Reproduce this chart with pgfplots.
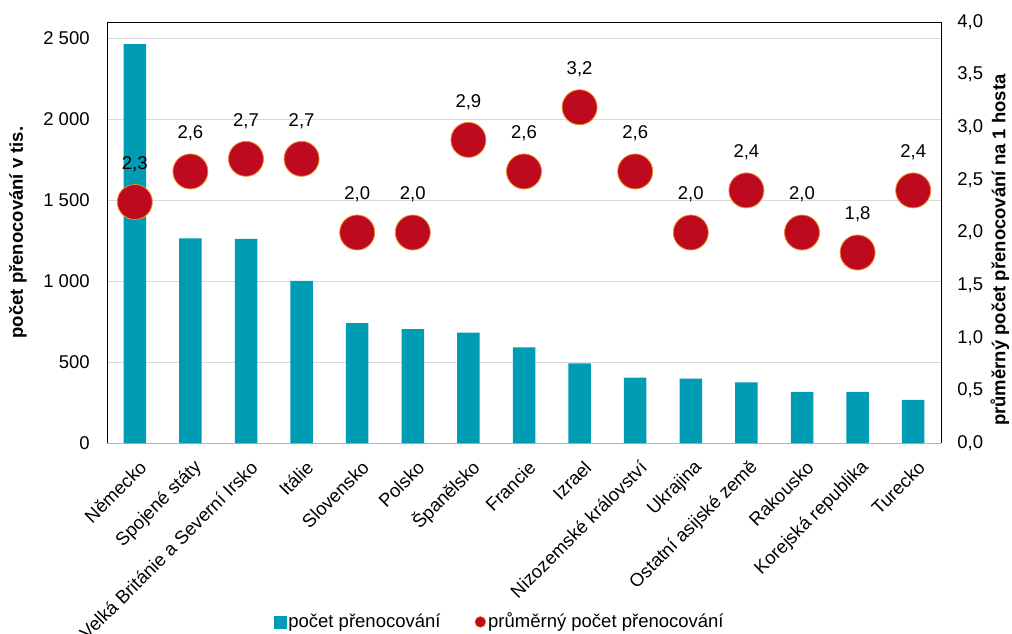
\documentclass[border=0pt]{standalone}
\usepackage{pgfplots}
\pgfplotsset{compat=1.18}
\usepackage{fontspec}
\setmainfont{Liberation Sans}

\definecolor{barteal}{RGB}{0,156,180}
\definecolor{dotred}{RGB}{190,10,30}
\definecolor{dotedge}{RGB}{240,140,40}
\definecolor{gridgray}{RGB}{217,217,217}

\begin{document}
\fontsize{18.5bp}{22bp}\selectfont
\begin{tikzpicture}
    % left axis: bars
    \begin{axis}[
        scale only axis,
        width=834bp, height=421bp,
        xmin=-0.5, xmax=14.5,
        ymin=0, ymax=2600,
        xtick={0,...,14},
        xticklabels={Německo, Spojené státy, Velká Británie a Severní Irsko, Itálie, Slovensko, Polsko, Španělsko, Francie, Izrael, Nizozemské království, Ukrajina, Ostatní asijské země, Rakousko, Korejská republika, Turecko},
        xticklabel style={rotate=45, anchor=east, xshift=-3bp, yshift=-21bp},
        ytick={0,500,1000,1500,2000,2500},
        yticklabel style={xshift=-11bp},
        major tick length=0pt,
        axis x line*=bottom, axis y line*=left,
        x axis line style={gray!60, -},
        y axis line style={black, -},
        ymajorgrids,
        grid style={gridgray, line width=1bp},
        scaled y ticks=false,
        /pgf/number format/1000 sep={\ },
        /pgf/number format/assume math mode=true,
        ylabel={\bfseries počet přenocování v tis.},
        ylabel style={at={(axis description cs:-0.1067,0.5)}, anchor=center},
    ]
        \addplot[ybar, bar width=22.5bp, fill=barteal, draw=none] coordinates {
            (0,2464) (1,1264) (2,1260) (3,1001) (4,741) (5,704) (6,681) (7,591)
            (8,492) (9,403) (10,397) (11,375) (12,315) (13,315) (14,266)
        };
    \end{axis}
    % right axis: average nights per guest
    \begin{axis}[
        scale only axis,
        width=834bp, height=421bp,
        xmin=-0.5, xmax=14.5,
        ymin=0, ymax=4,
        axis x line*=top, axis y line*=right,
        x axis line style={black, -},
        y axis line style={black, -},
        xtick=\empty,
        ytick={0,0.5,1,1.5,2,2.5,3,3.5,4},
        yticklabel style={xshift=10bp},
        major tick length=0pt,
        /pgf/number format/use comma,
        /pgf/number format/fixed,
        /pgf/number format/fixed zerofill,
        /pgf/number format/precision=1,
        /pgf/number format/assume math mode=true,
        ylabel={\bfseries průměrný počet přenocování na 1 hosta},
        ylabel style={at={(axis description cs:1.0707,0.458)}, anchor=center},
        legend style={at={(axis description cs:0.471,-0.425)}, anchor=center,
            draw=none, fill=none, legend columns=2,
            /tikz/every even column/.append style={column sep=32bp}},
        legend cell align=left,
    ]
        \addlegendimage{legend image code/.code={\fill[barteal] (0bp,-6bp) rectangle (12bp,6bp);}}
        \addlegendentry{počet přenocování}
        \addplot[only marks, mark=*, mark size=17.5bp,
            mark options={fill=dotred, draw=dotedge, line width=0.8bp},
            legend image code/.code={\draw[fill=dotred, draw=dotedge, line width=0.6bp] (6bp,0bp) circle (5.5bp);},
            nodes near coords,
            nodes near coords style={inner sep=0pt, yshift=30bp, text=black}] coordinates {
            (0,2.29) (1,2.58) (2,2.70) (3,2.70) (4,2.00) (5,2.00) (6,2.88) (7,2.58)
            (8,3.19) (9,2.58) (10,2.00) (11,2.40) (12,2.00) (13,1.81) (14,2.40)
        };
        \addlegendentry{průměrný počet přenocování}
    \end{axis}
    \pgfresetboundingbox
    \path[use as bounding box] (-107bp,-191bp) rectangle (905bp,443bp);
\end{tikzpicture}
\end{document}
